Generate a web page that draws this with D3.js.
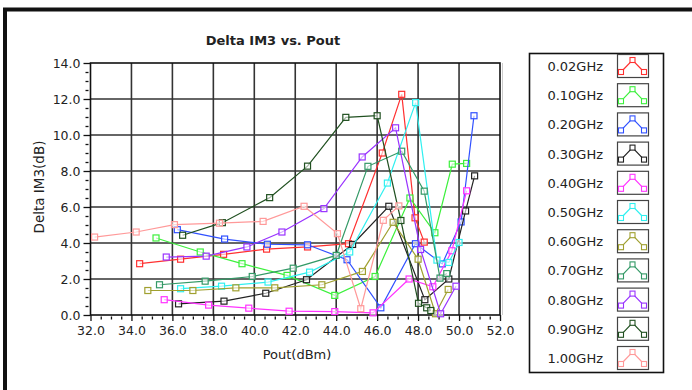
<!DOCTYPE html>
<html>
<head>
<meta charset="utf-8">
<script src="https://cdn.jsdelivr.net/npm/d3@7"></script>
<style>
  body { margin: 0; background: #fff; }
  svg { display: block; }
  text { font-family: "DejaVu Sans", sans-serif; fill: #222; }
</style>
</head>
<body>
<div></div>
<script>
const width = 692;
const height = 390;

// data, x = Pout(dBm), y = Delta IM3(dB)
const seriesNames = ["0.02GHz", "0.10GHz", "0.20GHz", "0.30GHz", "0.40GHz", "0.50GHz",
  "0.60GHz", "0.70GHz", "0.80GHz", "0.90GHz", "1.00GHz"];
const seriesColors = ["#ff3030", "#3cf03c", "#3050ff", "#222222", "#ff33ff", "#30f0f0",
  "#a0a030", "#339966", "#9933ff", "#205020", "#ff9999"];

const pout002 = [34.4, 36.4, 38.5, 40.6, 42.6, 44.6, 46.25, 47.2, 47.85, 48.3];
const im3002 = [2.85, 3.1, 3.37, 3.66, 3.78, 3.96, 9.0, 12.26, 5.4, 4.05];
const pout010 = [35.2, 37.36, 39.4, 41.6, 43.93, 45.9, 47.6, 48.82, 49.67, 50.37];
const im3010 = [4.28, 3.5, 2.85, 2.2, 1.09, 2.14, 6.5, 4.57, 8.38, 8.42];
const pout020 = [36.24, 38.55, 40.64, 42.6, 44.53, 46.18, 47.87, 49.18, 50.1, 50.73];
const im3020 = [4.74, 4.22, 3.93, 3.9, 3.07, 0.4, 3.96, 2.84, 5.17, 11.07];
const pout030 = [36.3, 38.52, 40.56, 42.55, 44.8, 46.57, 48.33, 49.5, 50.32, 50.76];
const im3030 = [0.62, 0.77, 1.21, 1.96, 3.92, 6.04, 0.85, 2.0, 5.78, 7.73];
const pout040 = [35.6, 37.77, 39.73, 41.7, 43.93, 45.8, 47.56, 48.72, 49.65, 50.37];
const im3040 = [0.85, 0.55, 0.38, 0.21, 0.19, 0.12, 2.0, 1.57, 3.57, 6.9];
const pout050 = [36.4, 38.4, 40.67, 42.7, 44.66, 46.5, 47.88, 48.92, 49.5, 50.0];
const im3050 = [1.46, 1.6, 1.83, 2.38, 3.5, 7.33, 11.8, 3.05, 2.92, 4.03];
const pout060 = [34.8, 37.0, 39.1, 41.0, 43.3, 45.28, 46.78, 48.0, 48.85, 49.47];
const im3060 = [1.36, 1.36, 1.51, 1.51, 1.68, 2.42, 5.15, 3.1, 0.07, 1.42];
const pout070 = [35.37, 37.6, 39.9, 41.9, 44.0, 45.55, 47.2, 48.3, 49.07, 49.4];
const im3070 = [1.68, 1.88, 2.14, 2.6, 3.31, 8.26, 9.1, 6.88, 2.05, 2.3];
const pout080 = [35.7, 37.65, 39.64, 41.35, 43.4, 45.27, 46.9, 48.12, 49.1, 49.85];
const im3080 = [3.22, 3.27, 3.78, 4.61, 5.91, 8.78, 10.4, 3.64, 0.07, 1.6];
const pout090 = [36.5, 38.44, 40.75, 42.6, 44.47, 46.0, 47.16, 48.02, 48.42, 48.62];
const im3090 = [4.43, 5.13, 6.52, 8.27, 10.98, 11.07, 5.25, 0.65, 0.4, 0.25];
const pout100 = [32.2, 34.23, 36.1, 38.3, 40.43, 42.43, 44.06, 45.2, 46.3, 47.06];
const im3100 = [4.33, 4.61, 5.02, 5.1, 5.2, 6.04, 4.52, 0.35, 5.26, 6.06];

const xTicks = [32, 34, 36, 38, 40, 42, 44, 46, 48, 50, 52];
const yTicks = [0, 2, 4, 6, 8, 10, 12, 14];

const allX = [pout002, pout010, pout020, pout030, pout040, pout050, pout060, pout070, pout080, pout090, pout100];
const allY = [im3002, im3010, im3020, im3030, im3040, im3050, im3060, im3070, im3080, im3090, im3100];
const series = seriesNames.map((name, i) => ({
  name: name,
  color: seriesColors[i],
  points: allX[i].map((x, j) => [x, allY[i][j]])
}));

const plotLeft = 90.5, plotRight = 500, plotTop = 63, plotBottom = 315;

const svg = d3.select("div").append("svg")
  .attr("width", width)
  .attr("height", height);

// outer frame
svg.append("rect")
  .attr("x", 5).attr("y", 9.5)
  .attr("width", 800).attr("height", 500)
  .attr("fill", "none").attr("stroke", "#111").attr("stroke-width", 4);

const x = d3.scaleLinear().domain([32, 52]).range([plotLeft, plotRight]);
const y = d3.scaleLinear().domain([0, 14]).range([plotBottom, plotTop]);

// grid
const grid = svg.append("g").attr("stroke", "#333").attr("stroke-width", 1.6);
grid.selectAll(".gx").data(xTicks.slice(1, -1)).enter().append("line")
  .attr("x1", d => x(d)).attr("x2", d => x(d))
  .attr("y1", plotTop).attr("y2", plotBottom);
grid.selectAll(".gy").data(yTicks.slice(1, -1)).enter().append("line")
  .attr("x1", plotLeft).attr("x2", plotRight)
  .attr("y1", d => y(d)).attr("y2", d => y(d));

svg.append("line").attr("x1", plotRight + 2.5).attr("x2", plotRight + 2.5)
  .attr("y1", plotTop).attr("y2", plotBottom).attr("stroke", "#ccc").attr("stroke-width", 1);
svg.append("rect")
  .attr("x", plotLeft).attr("y", plotTop)
  .attr("width", plotRight - plotLeft).attr("height", plotBottom - plotTop)
  .attr("fill", "none").attr("stroke", "#111").attr("stroke-width", 1.6);

// axes
const minorX = d3.range(32, 52.01, 0.5).filter(v => v % 2 !== 0);
const minorY = d3.range(0, 14.01, 0.5).filter(v => v % 2 !== 0);

const axisX = svg.append("g")
  .attr("transform", "translate(0," + plotBottom + ")")
  .call(d3.axisBottom(x).tickValues(xTicks).tickFormat(d3.format(".1f")).tickSize(6).tickPadding(5));
const axisXMinor = svg.append("g")
  .attr("transform", "translate(0," + (plotBottom + 1.5) + ")")
  .call(d3.axisBottom(x).tickValues(minorX).tickFormat("").tickSize(3));
const axisY = svg.append("g")
  .attr("transform", "translate(" + plotLeft + ",0)")
  .call(d3.axisLeft(y).tickValues(yTicks).tickFormat(d3.format(".1f")).tickSize(7).tickPadding(3));
const axisYMinor = svg.append("g")
  .attr("transform", "translate(" + (plotLeft - 2) + ",0)")
  .call(d3.axisLeft(y).tickValues(minorY).tickFormat("").tickSize(3));

[axisX, axisXMinor, axisY, axisYMinor].forEach(g => {
  g.select(".domain").remove();
  g.selectAll(".tick line").attr("stroke", "#111").attr("stroke-width", 1.3);
  g.selectAll("text").attr("font-size", "12.5px").attr("fill", "#222")
    .style("font-family", "'DejaVu Sans', sans-serif");
});

// titles
svg.append("text").text("Delta IM3 vs. Pout")
  .attr("x", 273).attr("y", 45)
  .attr("text-anchor", "middle")
  .attr("font-weight", "bold").attr("font-size", "13px");
svg.append("text").text("Pout(dBm)")
  .attr("x", 297).attr("y", 359)
  .attr("text-anchor", "middle").attr("font-size", "13px");
svg.append("text").text("Delta IM3(dB)")
  .attr("transform", "translate(44," + 187 + ") rotate(-90)")
  .attr("text-anchor", "middle").attr("font-size", "13.5px");

// series
const line = d3.line().x(d => x(d[0])).y(d => y(d[1]));
const plot = svg.append("g");
series.forEach(s => {
  const g = plot.append("g");
  g.append("path").datum(s.points)
    .attr("d", line)
    .attr("fill", "none").attr("stroke", s.color).attr("stroke-width", 1.2);
  g.selectAll("rect").data(s.points).enter().append("rect")
    .attr("x", d => x(d[0]) - 3).attr("y", d => y(d[1]) - 3)
    .attr("width", 6).attr("height", 6)
    .attr("fill", "#fff").attr("fill-opacity", 0.6)
    .attr("stroke", s.color).attr("stroke-width", 1.2);
});

// legend
const legend = svg.append("g");
legend.append("rect")
  .attr("x", 529.5).attr("y", 53.5).attr("width", 134).attr("height", 319)
  .attr("fill", "#fff").attr("stroke", "#111").attr("stroke-width", 1.6);

series.forEach((s, i) => {
  const cy = 66 + i * 29.2;
  const g = legend.append("g").attr("transform", "translate(0," + cy + ")");
  g.append("text").text(s.name)
    .attr("x", 603).attr("y", 5)
    .attr("text-anchor", "end").attr("font-size", "13px");
  g.append("rect")
    .attr("x", 617.5).attr("y", -11.5).attr("width", 31).attr("height", 23)
    .attr("fill", "#fff").attr("stroke", "#444").attr("stroke-width", 1.2);
  const pts = [[621, 6], [632.5, -6], [644, 6]];
  g.append("path").attr("d", d3.line()(pts))
    .attr("fill", "none").attr("stroke", s.color).attr("stroke-width", 1.2);
  g.selectAll(".m").data(pts).enter().append("rect")
    .attr("x", d => d[0] - 2.5).attr("y", d => d[1] - 2.5)
    .attr("width", 5).attr("height", 5)
    .attr("fill", "#fff").attr("stroke", s.color).attr("stroke-width", 1.1);
});
</script>
</body>
</html>
